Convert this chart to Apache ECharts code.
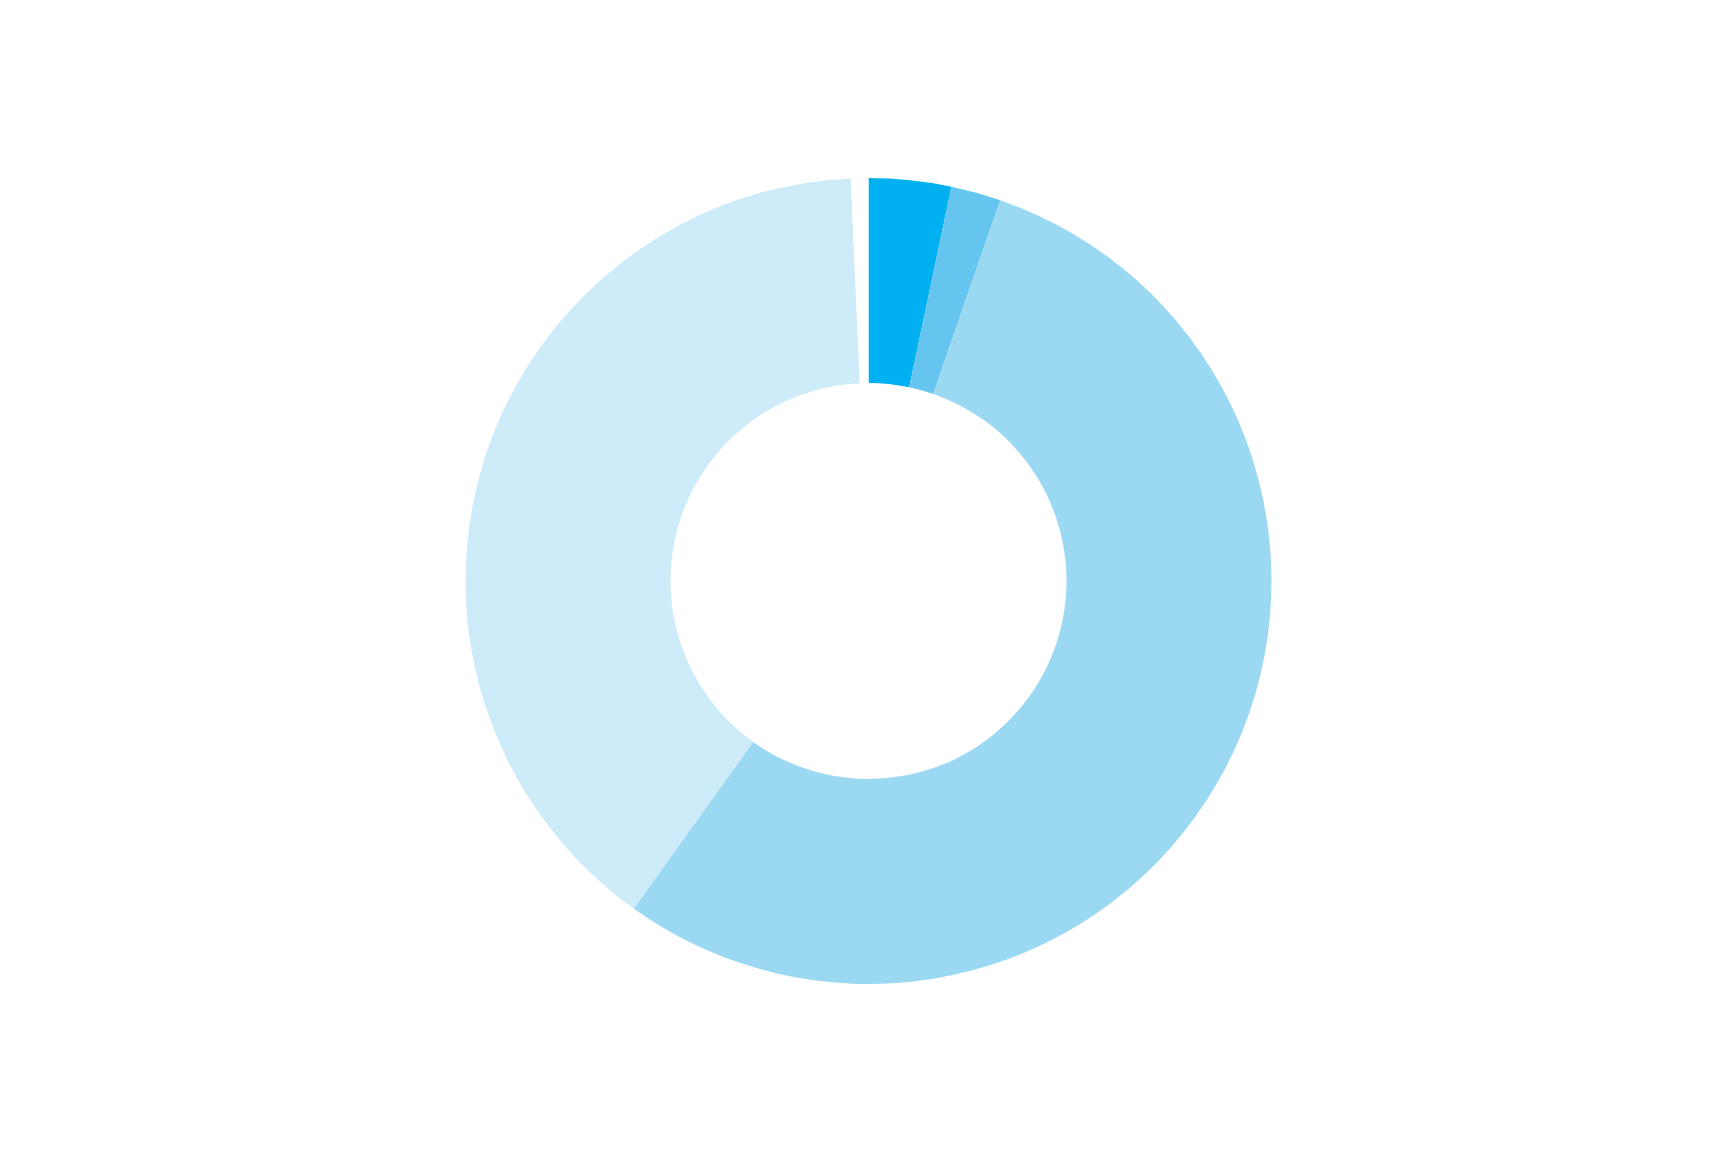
<!DOCTYPE html>
<html>
<head>
<meta charset="utf-8">
<script src="https://cdn.jsdelivr.net/npm/echarts@6/dist/echarts.min.js"></script>
<style>html,body{margin:0;padding:0;background:#fff;}#c{width:1713px;height:1151px;}</style>
</head>
<body>
<div id="c"></div>
<script>
const categories = ['A', 'B', 'C', 'D', 'Gap'];
const values = [3.3, 2.0, 54.6, 39.4, 0.7];
const colors = ['#00B0F0', '#66C5EF', '#9BD9F3', '#CDEBF8', '#FFFFFF'];

const chart = echarts.init(document.getElementById('c'), null, {renderer: 'canvas'});
chart.setOption({
  backgroundColor: '#ffffff',
  animation: false,
  series: [{
    type: 'pie',
    center: [868.5, 581],
    radius: [198, 403],
    startAngle: 90,
    clockwise: true,
    avoidLabelOverlap: false,
    label: {show: false},
    labelLine: {show: false},
    emphasis: {disabled: true},
    itemStyle: {borderWidth: 0, borderColor: 'transparent'},
    data: categories.map((c, i) => ({name: c, value: values[i], itemStyle: {color: colors[i]}}))
  }]
});
</script>
</body>
</html>
